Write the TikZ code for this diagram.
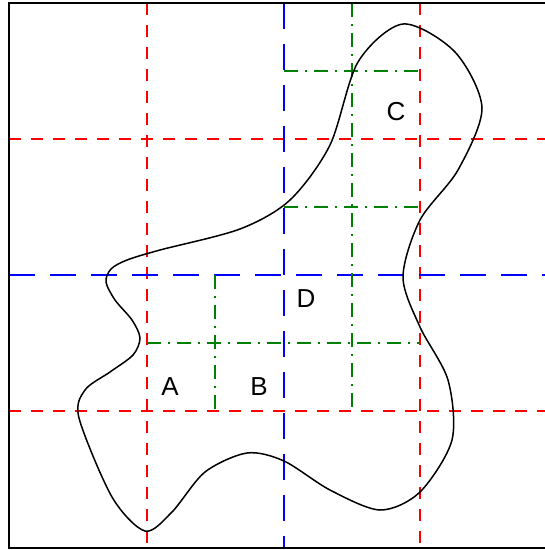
\documentclass[tikz,border=0pt]{standalone}
\usepackage{fontspec}
\setmainfont{Liberation Sans}
\begin{document}
\begin{tikzpicture}[x=1pt,y=-1pt,
  redl/.style={red, line width=1.4pt, dash pattern=on 12pt off 10pt},
  bluel/.style={blue, line width=1.4pt, dash pattern=on 26pt off 15pt},
  greenl/.style={green!50!black, line width=1.4pt, dash pattern=on 14pt off 7pt on 2pt off 7pt},
  lbl/.style={font=\fontsize{26}{30}\selectfont, inner sep=0pt},
  blob/.style={black, line width=1.5pt}]
\useasboundingbox (0,0) rectangle (545,550);
\clip (0,0) rectangle (545,550);
% red
\draw[redl] (147,3) -- (147,548);
\draw[redl] (420,3) -- (420,548);
\draw[redl] (9,139) -- (560,139);
\draw[redl] (9,411) -- (560,411);
% blue
\draw[bluel] (284,3) -- (284,548);
\draw[bluel] (9,275) -- (560,275);
% green
\draw[greenl] (215,275) -- (215,411);
\draw[greenl] (147,343) -- (420,343);
\draw[greenl] (352,3) -- (352,411);
\draw[greenl] (284,71) -- (420,71);
\draw[greenl] (284,207) -- (420,207);
% blob
\draw[blob] plot[smooth cycle, tension=0.5] coordinates {
 (106,282) (111,269) (127,260) (160,250) (240,229) (290,200) (330,145) (358,62) (403,24)
 (455,52) (482,108) (458,170) (420,220) (403,277) (420,327) (448,380)
 (452,440) (420,492) (380,510) (330,490) (284,461) (247,453) (205,472)
 (172,512) (145,531) (112,497) (79,418) (85,390) (110,372) (133,355) (140,338) (132,320) (115,300)};
% box
\draw[black, line width=1.6pt] (9,3) rectangle (559,548);
% labels
\node[lbl] (A) at (170,387) {A};
\node[lbl] (B) at (259,387) {B};
\node[lbl] (D) at (306,299) {D};
\node[lbl] (C) at (396,112) {C};
\end{tikzpicture}
\end{document}
